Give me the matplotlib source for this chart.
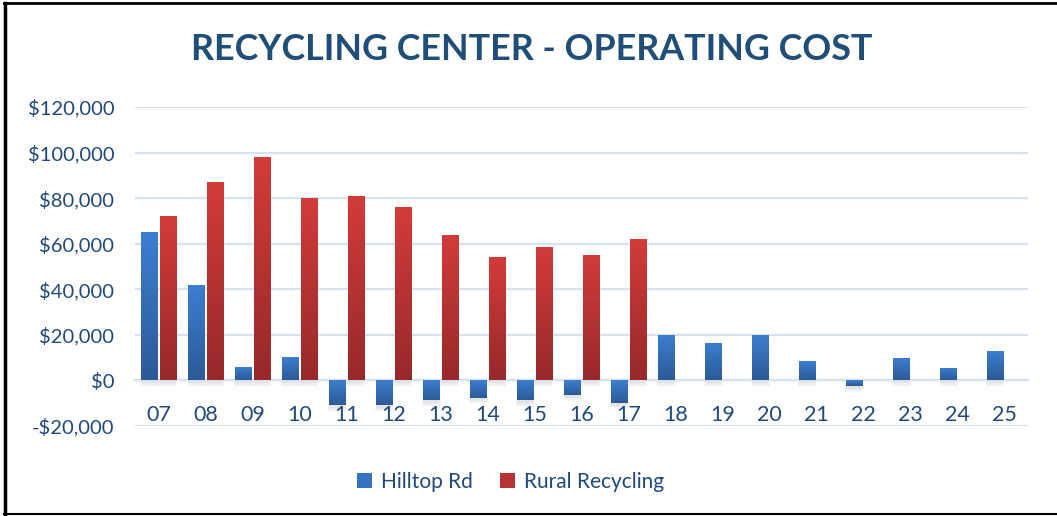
import numpy as np
import matplotlib
matplotlib.use("Agg")
import matplotlib.pyplot as plt
from matplotlib.colors import LinearSegmentedColormap
from matplotlib.patches import Rectangle
from matplotlib.lines import Line2D
from matplotlib.ticker import FuncFormatter

categories = ["07", "08", "09", "10", "11", "12", "13", "14", "15", "16",
              "17", "18", "19", "20", "21", "22", "23", "24", "25"]
hilltop = [65000, 42000, 6000, 10500, -11000, -11000, -8800, -7500, -8800, -6200,
           -10000, 20000, 16500, 20000, 8600, -2300, 10000, 5500, 13000]
rural = [72000, 87000, 98000, 80000, 81000, 76000, 64000, 54000, 58500, 55000,
         62000, np.nan, np.nan, np.nan, np.nan, np.nan, np.nan, np.nan, np.nan]
yticks = [-20000, 0, 20000, 40000, 60000, 80000, 100000, 120000]

TEXT = "#1F497D"
TITLE = "#1F4E79"
GRID = "#D6E2F2"
plt.rcParams['font.family'] = ['Lato', 'DejaVu Sans']

fig = plt.figure(figsize=(10.57, 5.16), dpi=100)
ax = fig.add_axes([135 / 1057, 1 - 426 / 516, (1028 - 135) / 1057, (426 - 107) / 516])

x = np.arange(len(categories))
bw = 16 / 46.8
gap = 2 / 46.8
b1 = ax.bar(x - bw / 2 - gap / 2, hilltop, bw, color="#3A78C8", label="Hilltop Rd", zorder=3)
b2 = ax.bar(x + bw / 2 + gap / 2, rural, bw, color="#C0393B", label="Rural Recycling", zorder=3)

blue_cmap = LinearSegmentedColormap.from_list("b", ["#2B5A96", "#3D7FD2"])
red_cmap = LinearSegmentedColormap.from_list("r", ["#97292A", "#D23C3A"])
grad = np.linspace(0, 1, 256).reshape(-1, 1)

ax.set_xlim(-0.5, len(categories) - 0.5)
ax.set_ylim(-20000, 120000)

for bars, cmap in ((b1, blue_cmap), (b2, red_cmap)):
    for r in bars:
        h = r.get_height()
        if not np.isfinite(h) or h == 0:
            continue
        x0 = r.get_x()
        w = r.get_width()
        y0, y1 = (0, h) if h > 0 else (h, 0)
        # soft shadow under the bar base
        for k, a in enumerate([0.06, 0.045, 0.03, 0.02]):
            sh = Rectangle((x0 - 0.012 * k, y0 - 1300 - 500 * k), w + 0.024 * k, 1300 + 500 * k,
                           facecolor="#505050", alpha=a, edgecolor="none", zorder=2)
            ax.add_patch(sh)
        im = ax.imshow(grad, cmap=cmap, aspect="auto", origin="lower",
                       extent=(x0, x0 + w, y0, y1), zorder=3.5)
        im.set_clip_path(r)

ax.set_xlim(-0.5, len(categories) - 0.5)
ax.set_ylim(-20000, 120000)

ax.set_yticks(yticks)
ax.yaxis.set_major_formatter(FuncFormatter(lambda v, p: ("-$" if v < 0 else "$") + f"{abs(int(v)):,}"))
ax.grid(axis="y", color=GRID, linewidth=1.6, zorder=0)
ax.tick_params(axis="y", length=0, pad=15, labelsize=14.5, labelcolor=TEXT)
ax.set_xticks(x)
ax.set_xticklabels(categories)
ax.tick_params(axis="x", length=0, pad=18, labelsize=15.5, labelcolor=TEXT)
for s in ("top", "right", "left"):
    ax.spines[s].set_visible(False)
ax.spines["bottom"].set_position(("data", 0))
ax.spines["bottom"].set_color(GRID)
ax.spines["bottom"].set_linewidth(1.6)

fig.text(532 / 1057, 1 - 50 / 516, "RECYCLING CENTER - OPERATING COST", ha="center", va="center",
         fontsize=25.8, fontweight="bold", color=TITLE)

handles = [Rectangle((0, 0), 1, 1, facecolor="#3473C0"), Rectangle((0, 0), 1, 1, facecolor="#B83334")]
leg = fig.legend(handles, ["Hilltop Rd", "Rural Recycling"], loc="center",
                 bbox_to_anchor=(511 / 1057, 1 - 482 / 516), ncol=2, frameon=False,
                 fontsize=15, handlelength=0.7, handleheight=0.7, handletextpad=0.45,
                 columnspacing=1.3, labelcolor=TEXT)

fig.add_artist(Line2D([5 / 1057, 5 / 1057], [1 - 3 / 516, 1 - 514 / 516], transform=fig.transFigure, color="black", linewidth=2.5))
fig.add_artist(Line2D([4 / 1057, 1.0], [1 - 2.5 / 516, 1 - 2.5 / 516], transform=fig.transFigure, color="black", linewidth=2))
fig.add_artist(Line2D([4 / 1057, 1.0], [1 - 514 / 516, 1 - 514 / 516], transform=fig.transFigure, color="black", linewidth=1.5))

fig.savefig("out.png", dpi=100)
